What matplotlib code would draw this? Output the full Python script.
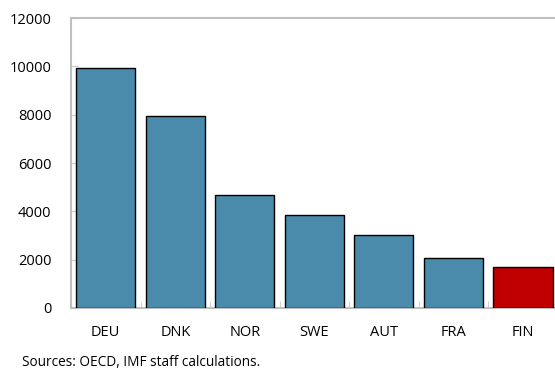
import numpy as np
import matplotlib.pyplot as plt

countries = ['DEU', 'DNK', 'NOR', 'SWE', 'AUT', 'FRA', 'FIN']
values = [9940, 7950, 4680, 3830, 3020, 2060, 1700]
colors = ['#4a8aab'] * 6 + ['#c00000']

plt.rcParams['font.family'] = ['Open Sans', 'DejaVu Sans']

fig = plt.figure(figsize=(5.55, 3.71), dpi=100)
ax = fig.add_axes([0.128, 0.170, 0.877, 0.781])

x = np.arange(len(countries))
ax.bar(x, values, width=0.85, color=colors, edgecolor='black', linewidth=1.0, zorder=3)

ax.set_xlim(-0.5, len(countries) - 0.5)
ax.set_ylim(0, 12000)
ax.set_yticks(np.arange(0, 12001, 2000))
ax.set_xticks(x)
ax.set_xticklabels(countries)
ax.set_xticks(x[:-1] + 0.5, minor=True)

ax.tick_params(axis='x', which='major', length=0, pad=12, labelsize=10.5)
ax.tick_params(axis='x', which='minor', direction='in', length=5, color='#c8c8c8')
ax.tick_params(axis='y', direction='in', length=5, color='#c8c8c8', pad=14, labelsize=10.5)

for side in ['left', 'bottom', 'top']:
    ax.spines[side].set_color('#bfbfbf')
    ax.spines[side].set_linewidth(1.5)
ax.spines['right'].set_visible(False)

fig.text(0.04, 0.022, 'Sources: OECD, IMF staff calculations.', fontsize=9.8, va='center')

fig.savefig('out.png', dpi=100)
